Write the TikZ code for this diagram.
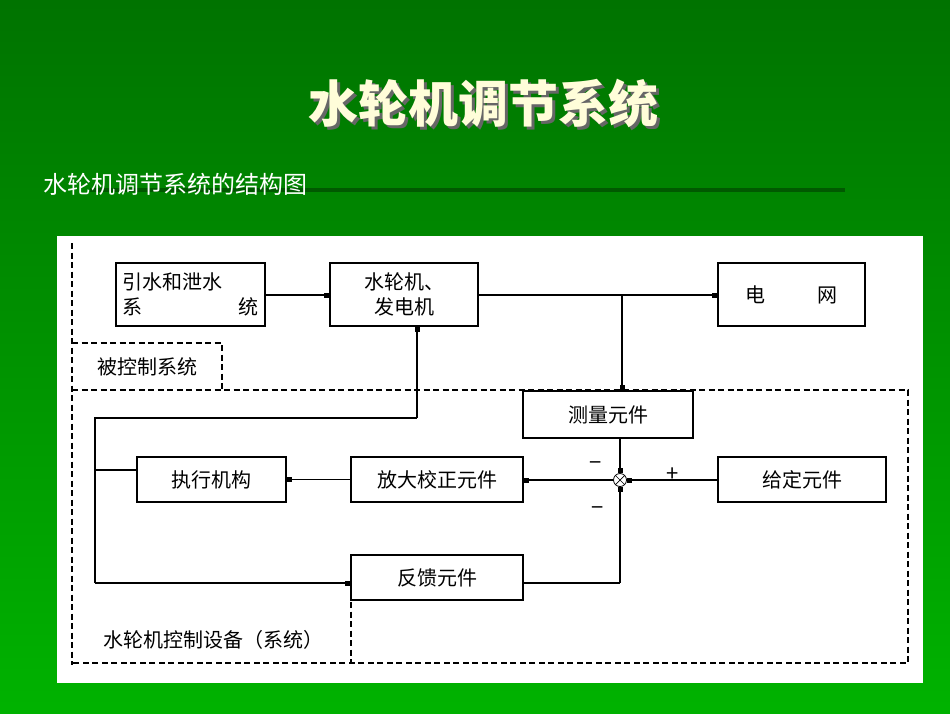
\documentclass[tikz,border=0pt]{standalone}
\usepackage{fontspec}
\setmainfont{Noto Sans CJK SC}
\usetikzlibrary{arrows.meta,shadows}
\begin{document}
\begin{tikzpicture}[x=1pt,y=-1pt,
 blk/.style={draw,line width=1.3pt,fill=white,font=\fontsize{20}{25}\selectfont,inner sep=0pt},
 ln/.style={line width=1.3pt},
 arr/.style={ln,-{Rectangle[length=5pt,width=5pt]}},
 dsh/.style={line width=1.3pt,dash pattern=on 6pt off 3.5pt}]
\useasboundingbox (0,0) rectangle (950,713);
\shade[top color=green!45!black,bottom color=green!70!black] (0,0) rectangle (950,713);
\fill[green!35!black] (90,188) rectangle (845,192);
\node (title) at (486,106) {\fontsize{50}{56}\selectfont\bfseries\color{black!60}水轮机调节系统};
\node (titlef) at (483,103) {\fontsize{50}{56}\selectfont\bfseries\color{yellow!15}水轮机调节系统};
\node[text=white,font=\fontsize{24}{27}\selectfont,anchor=west,inner sep=0pt] (sub) at (43,184) {水轮机调节系统的结构图};
\fill[white] (57,236) rectangle (923,683);
% dashed
\draw[dsh] (72,243) -- (72,665);
\draw[dsh] (72,343) -- (222,343) -- (222,390);
\draw[dsh] (72,390) -- (908,390) -- (908,663) -- (72,663);
\draw[dsh] (351,602) -- (351,663);
\node[font=\fontsize{20}{24}\selectfont] (ctl) at (147,367) {被控制系统};
\node[font=\fontsize{20}{24}\selectfont] (dev) at (213,640) {水轮机控制设备（系统）};
% blocks
\node[blk,minimum width=149pt,minimum height=63pt,align=left] (yin) at (190.5,294.5) {引水和泄水\\系\hspace{4.8em}统};
\node[blk,minimum width=148pt,minimum height=63pt,align=center] (tur) at (404,294.5) {水轮机、\\发电机};
\node[blk,minimum width=147pt,minimum height=63pt] (grid) at (791.5,294.5) {电\hspace{2.6em}网};
\node[blk,minimum width=170pt,minimum height=47pt] (meas) at (608,414.5) {测量元件};
\node[blk,minimum width=149pt,minimum height=45pt] (act) at (211.5,479.5) {执行机构};
\node[blk,minimum width=172pt,minimum height=45pt] (amp) at (437,479.5) {放大校正元件};
\node[blk,minimum width=168pt,minimum height=45pt] (set) at (802,479.5) {给定元件};
\node[blk,minimum width=172pt,minimum height=45pt] (fb) at (437,577.5) {反馈元件};
\node[draw,circle,line width=0.8pt,minimum size=13pt,inner sep=0pt] (sum) at (620,480) {};
\draw[line width=0.7pt] (sum.north west) -- (sum.south east) (sum.north east) -- (sum.south west);
\coordinate (br) at (622,295);
\coordinate (l1) at (95,418);
\coordinate (l2) at (417,418);
\coordinate (l3) at (95,583);
\coordinate (l4) at (95,470);
\coordinate (f1) at (620,583);
% connectors
\draw[arr] (yin.east |- 0,295) -- (tur.west |- 0,295);
\draw[arr] (tur.east |- 0,295) -- (grid.west |- 0,295);
\draw[arr] (br) -- (meas.north -| br);
\draw[arr] (meas.south -| sum) -- (sum.north);
\draw[arr] (set.west |- sum) -- (sum.east);
\draw[arr] (sum.west) -- (amp.east |- sum);
\draw[arr] (amp.west) -- (act.east);
\draw[ln] (act.west |- l4) -- (l4);
\draw[ln] (l3) -- (l1) -- (l2);
\draw[arr] (l2) -- (tur.south -| l2);
\draw[arr] (l3) -- (fb.west |- l3);
\draw[ln] (fb.east |- f1) -- (f1);
\draw[arr] (f1) -- (sum.south);
\node[font=\fontsize{22}{24}\selectfont] (m1) at (596,466) {−};
\node[font=\fontsize{22}{24}\selectfont] (m2) at (598,511) {−};
\node[font=\fontsize{22}{24}\selectfont] (p1) at (673,475) {+};
\end{tikzpicture}
\end{document}
